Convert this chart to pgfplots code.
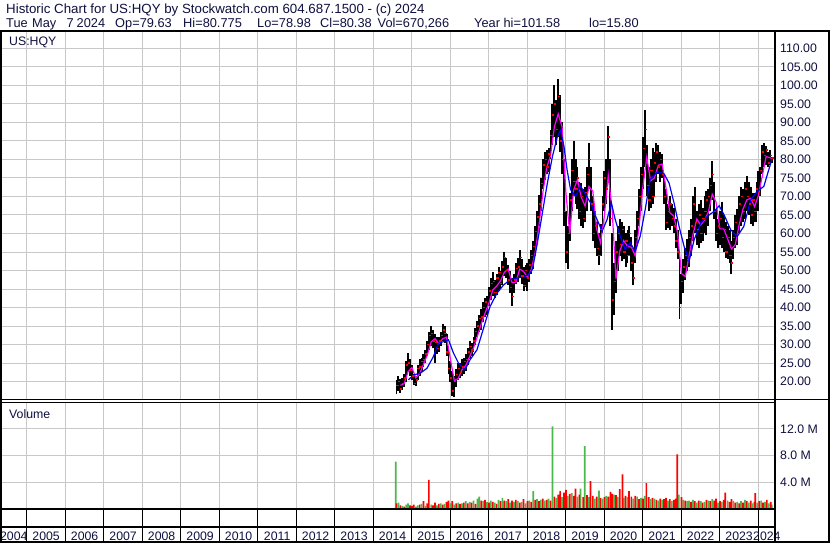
\documentclass[border=0pt]{standalone}
\usepackage{fontspec}
\setmainfont{Liberation Sans}
\usepackage{pgfplots}
\pgfplotsset{compat=1.18}
\usepackage{pgfplotstable}
\definecolor{gridgray}{HTML}{C8C8C8}
\definecolor{textcol}{HTML}{101040}
\definecolor{vgreen}{HTML}{4CB84C}
\definecolor{vred}{HTML}{FF0000}
\definecolor{mag}{HTML}{FF00FF}
\definecolor{mablue}{HTML}{0000FF}
\newcommand{\cf}{\fontsize{12.3bp}{14bp}\selectfont}
\newcommand{\hf}{\fontsize{13.3bp}{15bp}\selectfont}
\newcommand{\hg}{\fontsize{12.8bp}{15bp}\selectfont}

\pgfplotstableread{
t lo hi c
2014.60 16.8 20.5 19.0
2014.65 17.5 21.5 20.0
2014.70 17.0 20.8 18.0
2014.75 17.8 21.0 19.5
2014.80 18.5 22.0 21.0
2014.85 20.0 25.5 24.5
2014.90 22.5 27.8 25.0
2014.95 21.5 26.0 23.0
2015.00 20.5 24.5 21.5
2015.05 19.0 22.0 19.5
2015.10 18.8 21.5 20.5
2015.15 20.5 24.5 23.5
2015.20 21.5 26.0 24.0
2015.25 22.5 26.5 25.5
2015.30 24.0 27.5 26.0
2015.35 25.0 28.5 27.5
2015.40 27.0 31.0 30.0
2015.45 28.5 33.5 32.5
2015.50 29.5 35.0 33.0
2015.55 29.0 34.0 31.0
2015.60 25.0 33.0 30.5
2015.65 27.5 32.0 29.0
2015.70 28.0 32.0 31.0
2015.75 29.5 33.5 32.5
2015.80 31.0 35.5 34.0
2015.85 30.5 35.0 33.0
2015.90 27.0 33.0 28.0
2015.95 22.0 29.0 23.5
2016.00 20.0 25.5 21.0
2016.05 16.2 23.0 17.5
2016.10 15.8 21.5 20.0
2016.15 18.5 23.5 22.0
2016.20 20.5 25.0 23.5
2016.25 21.0 25.0 22.5
2016.30 21.5 26.0 24.0
2016.35 22.0 26.5 25.5
2016.40 23.0 27.5 26.0
2016.45 24.5 29.0 28.0
2016.50 26.0 31.0 29.5
2016.55 27.0 30.5 28.5
2016.60 28.0 32.0 31.0
2016.65 30.0 34.5 33.5
2016.70 32.0 36.5 35.0
2016.75 33.5 38.0 37.0
2016.80 34.0 39.5 37.5
2016.85 36.0 41.5 40.0
2016.90 37.5 42.5 41.5
2016.95 38.0 43.0 39.5
2017.00 40.5 45.5 44.5
2017.05 42.0 48.0 46.5
2017.10 43.0 49.5 47.0
2017.15 42.5 47.5 44.0
2017.20 43.5 49.0 48.0
2017.25 44.5 51.0 49.5
2017.30 45.0 50.0 46.5
2017.35 46.0 52.5 51.0
2017.40 48.5 55.0 53.5
2017.45 48.0 53.5 50.0
2017.50 46.0 51.5 47.5
2017.55 44.0 50.0 45.5
2017.60 40.5 48.0 43.0
2017.65 44.0 49.0 47.5
2017.70 46.5 52.0 50.5
2017.75 47.0 53.5 51.0
2017.80 48.0 55.5 53.5
2017.85 46.5 53.0 48.5
2017.90 44.5 51.0 46.0
2017.95 45.5 51.5 50.0
2018.00 44.5 52.0 48.0
2018.05 47.0 53.0 51.5
2018.10 49.0 55.5 54.0
2018.15 50.5 58.0 56.5
2018.20 54.0 62.0 60.5
2018.25 58.0 66.0 64.5
2018.30 62.0 70.5 68.0
2018.35 66.0 75.0 73.5
2018.40 72.0 80.0 78.5
2018.45 74.5 82.0 80.0
2018.50 76.0 82.5 78.0
2018.55 76.5 83.0 81.5
2018.60 80.0 88.0 86.5
2018.65 84.0 95.0 92.0
2018.70 86.0 100.0 95.0
2018.75 84.0 96.0 88.0
2018.80 86.0 101.6 97.0
2018.85 82.0 97.5 85.0
2018.90 76.0 90.0 80.0
2018.95 62.0 80.0 66.0
2019.00 52.0 66.0 55.0
2019.05 50.5 62.0 60.0
2019.10 58.0 71.0 69.0
2019.15 66.0 80.0 77.0
2019.20 70.0 85.0 74.0
2019.25 68.0 80.0 72.0
2019.30 66.5 78.0 75.0
2019.35 64.0 74.0 66.0
2019.40 62.0 73.5 70.0
2019.45 61.5 72.0 64.0
2019.50 63.0 72.5 71.0
2019.55 66.0 78.0 76.0
2019.60 72.0 84.5 80.0
2019.65 66.0 78.0 68.0
2019.70 58.0 70.0 60.0
2019.75 56.0 66.0 62.0
2019.80 54.0 63.0 56.0
2019.85 51.5 60.0 54.0
2019.90 54.0 62.5 61.0
2019.95 60.0 70.0 68.0
2020.00 66.0 77.0 75.0
2020.05 68.0 80.0 72.0
2020.10 74.0 89.0 86.0
2020.15 62.0 80.0 64.0
2020.20 34.0 60.0 42.0
2020.25 38.0 52.0 47.0
2020.30 44.0 58.0 55.0
2020.35 50.0 62.0 60.0
2020.40 54.0 64.0 57.0
2020.45 52.5 63.0 61.0
2020.50 53.0 62.0 55.0
2020.55 51.0 60.0 58.0
2020.60 52.0 61.0 54.0
2020.65 54.0 62.0 60.0
2020.70 50.0 59.0 52.0
2020.75 46.0 56.0 48.0
2020.80 52.0 61.0 59.0
2020.85 57.0 66.0 64.0
2020.90 62.0 72.0 70.0
2020.95 66.0 78.0 76.0
2021.00 72.0 86.0 83.0
2021.05 78.0 93.4 88.0
2021.10 70.0 84.0 73.0
2021.15 66.0 78.0 69.0
2021.20 67.0 80.0 77.0
2021.25 68.0 83.0 70.0
2021.30 70.0 82.0 79.0
2021.35 74.0 84.5 82.0
2021.40 76.0 84.0 78.0
2021.45 74.0 82.0 80.0
2021.50 75.0 81.5 76.0
2021.55 68.0 76.0 70.0
2021.60 61.0 72.0 63.0
2021.65 61.5 68.0 66.0
2021.70 61.0 70.0 68.0
2021.75 62.0 68.0 64.0
2021.80 60.0 67.0 62.0
2021.85 56.0 64.0 58.0
2021.90 53.0 61.0 55.0
2021.95 37.0 54.0 40.0
2022.00 41.0 49.0 47.0
2022.05 44.0 53.0 51.0
2022.10 47.5 56.0 54.0
2022.15 50.0 58.5 53.0
2022.20 51.0 61.0 59.0
2022.25 54.0 64.0 62.0
2022.30 58.0 70.0 68.0
2022.35 60.0 72.5 63.0
2022.40 57.0 66.0 61.0
2022.45 56.0 68.0 65.0
2022.50 57.5 69.0 60.0
2022.55 58.0 67.0 64.0
2022.60 60.0 70.0 66.0
2022.65 59.5 71.5 69.0
2022.70 62.0 72.0 70.0
2022.75 66.0 75.0 73.0
2022.80 69.0 79.5 76.0
2022.85 64.0 74.0 66.0
2022.90 58.0 66.5 60.0
2022.95 56.0 64.0 62.0
2023.00 57.0 66.0 64.0
2023.05 56.0 68.5 59.0
2023.10 55.0 65.0 61.0
2023.15 53.5 63.0 55.0
2023.20 53.0 62.0 59.0
2023.25 52.0 61.0 54.0
2023.30 49.0 58.0 52.0
2023.35 53.0 61.0 59.0
2023.40 56.0 65.0 63.0
2023.45 57.0 66.5 60.0
2023.50 60.0 70.0 68.0
2023.55 62.0 72.5 70.0
2023.60 63.0 72.0 66.0
2023.65 64.0 74.0 72.0
2023.70 66.0 75.5 70.0
2023.75 65.0 74.0 68.0
2023.80 62.5 72.5 65.0
2023.85 62.0 71.0 69.0
2023.90 63.0 71.0 66.0
2023.95 63.0 74.0 72.0
2024.00 66.0 77.0 71.0
2024.05 70.0 78.0 77.0
2024.10 76.0 84.0 82.0
2024.15 78.0 84.5 81.0
2024.20 78.5 83.5 82.5
2024.25 78.0 82.0 79.0
2024.30 78.5 82.5 81.0
2024.35 78.98 80.78 80.38
}\price

\pgfplotstableread{
t g r
2014.58 7.1 0
2014.60 0 0.9
2014.65 1.0 0
2014.70 0 0.6
2014.75 0.5 0
2014.80 0 0.4
2014.85 0.7 0
2014.90 0.9 0
2014.95 0 0.6
2015.00 0 0.5
2015.05 0 0.7
2015.10 0.4 0
2015.15 0.6 0
2015.20 0 0.7
2015.25 0.8 0
2015.30 0 1.2
2015.35 0.5 0
2015.40 0 0.9
2015.44 0 4.4
2015.50 0.7 0
2015.55 0 0.6
2015.60 0 1.0
2015.65 0.6 0
2015.70 0 0.8
2015.75 0.9 0
2015.80 0 0.7
2015.85 0.8 0
2015.90 0 1.1
2015.95 0 1.3
2016.00 0.9 0
2016.05 0 1.2
2016.10 0.7 0
2016.15 0 0.9
2016.20 1.0 0
2016.25 0 0.8
2016.30 0.9 0
2016.35 0 1.0
2016.40 1.2 0
2016.45 0 0.9
2016.50 1.1 0
2016.55 0 1.0
2016.60 1.3 0
2016.65 0 0.8
2016.70 1.6 0
2016.75 1.9 0
2016.80 0 1.3
2016.85 1.2 0
2016.90 0 1.4
2016.95 1.1 0
2017.00 0 1.0
2017.05 1.3 0
2017.10 0 1.1
2017.15 1.0 0
2017.20 0 0.8
2017.25 1.4 0
2017.30 0 1.2
2017.35 1.7 0
2017.40 0 1.3
2017.45 1.2 0
2017.50 0 1.5
2017.55 1.0 0
2017.60 0 1.3
2017.65 1.1 0
2017.70 0 1.4
2017.75 1.2 0
2017.80 0 1.0
2017.85 1.1 0
2017.90 0 1.5
2017.95 0.9 0
2018.00 0 1.2
2018.05 1.3 0
2018.10 0 1.1
2018.15 2.7 0
2018.20 0 1.4
2018.25 1.5 0
2018.30 0 1.2
2018.35 1.4 0
2018.40 0 1.6
2018.45 1.3 0
2018.50 0 1.4
2018.55 1.6 0
2018.60 0 1.3
2018.65 12.35 0
2018.70 0 1.9
2018.75 1.7 0
2018.80 0 2.2
2018.85 0 2.7
2018.90 1.8 0
2018.95 0 2.5
2019.00 0 2.9
2019.05 2.0 0
2019.10 0 2.3
2019.15 2.4 0
2019.20 0 2.0
2019.25 0 3.1
2019.30 1.9 0
2019.35 0 2.2
2019.38 3.1 0
2019.45 0 1.8
2019.49 9.4 0
2019.55 0 2.1
2019.60 1.8 0
2019.64 0 4.2
2019.70 0 2.0
2019.75 1.6 0
2019.80 0 1.9
2019.86 2.8 0
2019.90 0 1.7
2019.95 1.6 0
2020.00 0 1.8
2020.05 2.0 0
2020.10 0 1.9
2020.16 0 2.6
2020.20 0 2.3
2020.25 2.2 0
2020.30 0 2.1
2020.35 1.8 0
2020.40 0 3.0
2020.47 0 5.2
2020.50 1.7 0
2020.55 0 2.0
2020.60 1.8 0
2020.64 0 2.7
2020.70 0 1.9
2020.75 1.6 0
2020.80 0 2.0
2020.85 1.9 0
2020.90 0 1.5
2020.95 1.7 0
2021.00 0 1.6
2021.05 2.0 0
2021.09 0 3.9
2021.15 0 1.8
2021.20 1.5 0
2021.25 0 1.7
2021.30 1.6 0
2021.35 0 1.4
2021.40 1.3 0
2021.45 0 1.6
2021.50 1.4 0
2021.55 0 1.5
2021.60 0 1.7
2021.65 1.3 0
2021.70 0 1.5
2021.75 1.2 0
2021.80 0 1.4
2021.85 0 1.6
2021.89 0 8.2
2021.93 2.2 0
2022.00 0 1.8
2022.05 1.4 0
2022.10 0 1.3
2022.15 1.2 0
2022.20 1.3 0
2022.25 0 1.1
2022.30 1.4 0
2022.35 0 1.2
2022.40 1.0 0
2022.45 0 1.3
2022.50 1.2 0
2022.55 0 1.0
2022.60 1.1 0
2022.65 0 1.4
2022.70 1.3 0
2022.75 0 1.2
2022.80 1.5 0
2022.85 0 1.3
2022.90 0 1.6
2022.95 1.0 0
2023.00 0 1.2
2023.05 1.1 0
2023.10 0 1.4
2023.14 0 2.5
2023.20 1.3 0
2023.25 0 1.1
2023.30 0 1.5
2023.35 1.2 0
2023.40 0 1.0
2023.45 1.1 0
2023.50 0 0.9
2023.55 1.2 0
2023.60 0 1.0
2023.65 1.4 0
2023.70 0 1.2
2023.75 1.0 0
2023.80 0 1.3
2023.85 0.9 0
2023.90 0 1.1
2023.92 0 2.4
2023.97 1.0 0
2024.02 0 1.2
2024.07 1.3 0
2024.12 0 1.0
2024.17 1.1 0
2024.22 0 1.4
2024.27 0.9 0
2024.32 0 1.1
2024.35 0.7 0
}\vol

\begin{document}
\begin{tikzpicture}
\fill[white] (0,0) rectangle (830bp,543bp);
\useasboundingbox (0,0) rectangle (830bp,543bp);
\clip (0,0) rectangle (830bp,543bp);

% ---------- price panel ----------
\begin{axis}[
  at={(1bp,143bp)}, anchor=south west,
  scale only axis, width=774bp, height=369bp,
  xmin=2004.327, xmax=2024.431, ymin=15.05, ymax=114.67,
  axis line style={draw=none},
  major tick length=0pt,
  xtick={2005,2006,...,2024}, xticklabels={},
  ytick={20,25,...,110},
  yticklabels={20.00,25.00,30.00,35.00,40.00,45.00,50.00,55.00,60.00,65.00,70.00,75.00,80.00,85.00,90.00,95.00,100.00,105.00,110.00},
  yticklabel pos=right,
  yticklabel style={anchor=west, inner sep=0pt, xshift=5bp, font=\cf, text=textcol},
  grid=major, major grid style={gridgray, line width=1bp},
]
\addplot[draw=none, forget plot, error bars/.cd, y dir=plus, y explicit, error mark=none,
  error bar style={draw=black, line width=1.95bp}]
  table[x=t, y=lo, y error plus expr=\thisrow{hi}-\thisrow{lo}] {\price};
\addplot[only marks, mark=-, mark size=1.1bp, vred, mark options={line width=1.4bp, xshift=0.9bp}]
  table[x=t, y=c] {\price};
\addplot[mag, line width=1.2bp] coordinates {
(2014.70,19.0) (2014.80,19.5) (2014.90,22.7) (2015.00,23.8) (2015.10,21.05) (2015.20,22.1)
(2015.30,24.7) (2015.40,27.2) (2015.50,30.75) (2015.60,31.6) (2015.70,30.25) (2015.80,31.6)
(2015.90,32.0) (2016.00,26.1) (2016.10,20.3) (2016.20,20.8) (2016.30,23.2) (2016.40,24.4)
(2016.50,26.8) (2016.60,29.1) (2016.70,32.2) (2016.80,35.6) (2016.90,38.5) (2017.00,41.2)
(2017.10,44.75) (2017.20,45.8) (2017.30,47.2) (2017.40,49.5) (2017.50,50.4) (2017.60,46.8)
(2017.70,46.8) (2017.80,50.4) (2017.90,49.75) (2018.00,48.2) (2018.10,50.2) (2018.20,54.8)
(2018.30,62.1) (2018.40,70.9) (2018.50,77.8) (2018.60,81.0) (2018.70,88.8) (2018.80,92.3)
(2018.90,88.85) (2019.00,71.0) (2019.10,59.9) (2019.20,71.7) (2019.30,74.6) (2019.40,69.7)
(2019.50,67.4) (2019.60,72.7) (2019.70,71.4) (2019.80,61.2) (2019.90,57.5) (2020.00,64.9)
(2020.10,75.7) (2020.20,66.5) (2020.30,47.7) (2020.40,55.3) (2020.50,58.1) (2020.60,56.5)
(2020.70,56.3) (2020.80,54.0) (2020.90,61.7) (2021.00,72.7) (2021.10,80.6) (2021.20,74.2)
(2021.30,75.0) (2021.40,78.4) (2021.50,78.75) (2021.60,72.25) (2021.70,65.6) (2021.80,64.7)
(2021.90,60.2) (2022.00,49.2) (2022.10,48.4) (2022.20,54.0) (2022.30,59.7) (2022.40,63.9)
(2022.50,62.25) (2022.60,63.6) (2022.70,65.8) (2022.80,70.6) (2022.90,68.5) (2023.00,61.25)
(2023.10,61.25) (2023.20,58.6) (2023.30,55.8) (2023.40,57.0) (2023.50,62.4) (2023.60,66.6)
(2023.70,69.1) (2023.80,69.5) (2023.90,67.25) (2024.00,70.3) (2024.10,75.5) (2024.20,80.75)
(2024.30,80.5) (2024.35,80.2)
};
\addplot[mablue, line width=1.2bp] coordinates {
(2014.91,20.5) (2015.04,21.8) (2015.22,22.3) (2015.39,23.6) (2015.56,26.8) (2015.69,30.4)
(2015.82,30.8) (2015.95,31.3) (2016.08,27.7) (2016.21,25.0) (2016.38,23.2) (2016.51,25.9)
(2016.69,28.6) (2016.86,34.4) (2017.03,40.3) (2017.21,43.9) (2017.38,46.1) (2017.55,47.5)
(2017.72,47.9) (2017.90,48.4) (2018.03,48.8) (2018.13,50.3) (2018.26,57.5) (2018.39,65.6)
(2018.52,73.7) (2018.65,80.8) (2018.78,86.2) (2018.86,87.9) (2018.95,83.5) (2019.03,77.2)
(2019.12,71.9) (2019.25,70.0) (2019.38,72.8) (2019.51,70.5) (2019.64,68.3) (2019.77,64.7)
(2019.94,60.6) (2020.07,63.8) (2020.18,68.3) (2020.28,63.8) (2020.41,59.3) (2020.54,55.7)
(2020.67,57.5) (2020.80,55.2) (2020.93,59.3) (2021.06,66.5) (2021.19,74.6) (2021.38,76.7)
(2021.55,76.1) (2021.68,73.6) (2021.81,68.2) (2021.94,61.9) (2022.07,56.5) (2022.20,52.5)
(2022.33,58.3) (2022.50,62.8) (2022.67,64.6) (2022.85,66.0) (2022.98,67.5) (2023.11,65.0)
(2023.28,61.0) (2023.45,59.2) (2023.62,61.9) (2023.80,69.1) (2023.97,71.4) (2024.14,72.7)
(2024.32,79.0) (2024.37,80.5)
};
\end{axis}

% ---------- volume panel ----------
\begin{axis}[
  at={(1bp,33.7bp)}, anchor=south west,
  scale only axis, width=774bp, height=107bp,
  xmin=2004.327, xmax=2024.431, ymin=0, ymax=15.95,
  axis line style={draw=none},
  major tick length=0pt,
  xtick={2005,2006,...,2024}, xticklabels={},
  ytick={4,8,12}, yticklabels={4.0 M,8.0 M,12.0 M},
  yticklabel pos=right,
  yticklabel style={anchor=west, inner sep=0pt, xshift=5bp, font=\cf, text=textcol},
  grid=major, major grid style={gridgray, line width=1bp},
]
\addplot[ybar, bar shift=0pt, bar width=1.7bp, fill=vgreen, draw=none] table[x=t, y=g] {\vol};
\addplot[ybar, bar shift=0pt, bar width=1.7bp, fill=vred, draw=none] table[x=t, y=r] {\vol};
\end{axis}

% ---------- year strip ----------
\begin{axis}[
  at={(1bp,2bp)}, anchor=south west,
  scale only axis, width=774bp, height=31.7bp,
  xmin=2004.327, xmax=2024.431, ymin=0, ymax=1,
  axis line style={draw=none},
  major tick length=0pt,
  ytick=\empty,
  xtick={2005,2006,...,2024}, xticklabels={},
  xmajorgrids, major grid style={black, line width=1bp},
  extra x ticks={2004.66,2005.5,2006.5,2007.5,2008.5,2009.5,2010.5,2011.5,2012.5,2013.5,2014.5,2015.5,2016.5,2017.5,2018.5,2019.5,2020.5,2021.5,2022.5,2023.5,2024.22},
  extra x tick labels={2004,2005,2006,2007,2008,2009,2010,2011,2012,2013,2014,2015,2016,2017,2018,2019,2020,2021,2022,2023,2024},
  extra x tick style={grid=none, major tick length=0pt,
    tick label style={anchor=base, yshift=1bp, inner sep=0pt, font=\cf, text=textcol}},
]
\end{axis}

% ---------- frame lines ----------
\draw[black, line width=1.3bp] (0,16bp) -- (775bp,16bp);
\draw[black, line width=2bp] (0,33.7bp) -- (775bp,33.7bp);
\draw[black, line width=1bp] (0,140.7bp) -- (775bp,140.7bp);
\draw[black, line width=1bp] (0,143bp) -- (830bp,143bp);
\draw[black, line width=2bp] (0,512bp) -- (830bp,512bp);
\draw[black, line width=2bp] (775bp,0) -- (775bp,512bp);
\draw[black, line width=2bp] (1bp,0) -- (1bp,512bp);
\draw[black, line width=2bp] (829bp,0) -- (829bp,512bp);
\draw[black, line width=2bp] (0,1bp) -- (830bp,1bp);

% ---------- texts ----------
\begin{scope}[every node/.style={anchor=base west, inner sep=0pt, text=textcol, font=\hf}]
\node at (6bp,529bp) {Historic Chart for US:HQY by Stockwatch.com 604.687.1500 - (c) 2024};
\end{scope}
\begin{scope}[every node/.style={anchor=base west, inner sep=0pt, text=textcol, font=\hg}]
\node at (6bp,515.3bp) {Tue};
\node at (32bp,515.3bp) {May};
\node at (66.5bp,515.3bp) {7};
\node at (76.5bp,515.3bp) {2024};
\node at (115bp,515.3bp) {Op=79.63};
\node at (183bp,515.3bp) {Hi=80.775};
\node at (257bp,515.3bp) {Lo=78.98};
\node at (320bp,515.3bp) {Cl=80.38};
\node at (377.5bp,515.3bp) {Vol=670,266};
\node at (474bp,515.3bp) {Year hi=101.58};
\node at (589bp,515.3bp) {lo=15.80};
\end{scope}
\begin{scope}[every node/.style={anchor=base west, inner sep=0pt, text=textcol, font=\cf}]
\node at (9bp,497bp) {US:HQY};
\node at (9bp,124.7bp) {Volume};
\end{scope}
\end{tikzpicture}
\end{document}
